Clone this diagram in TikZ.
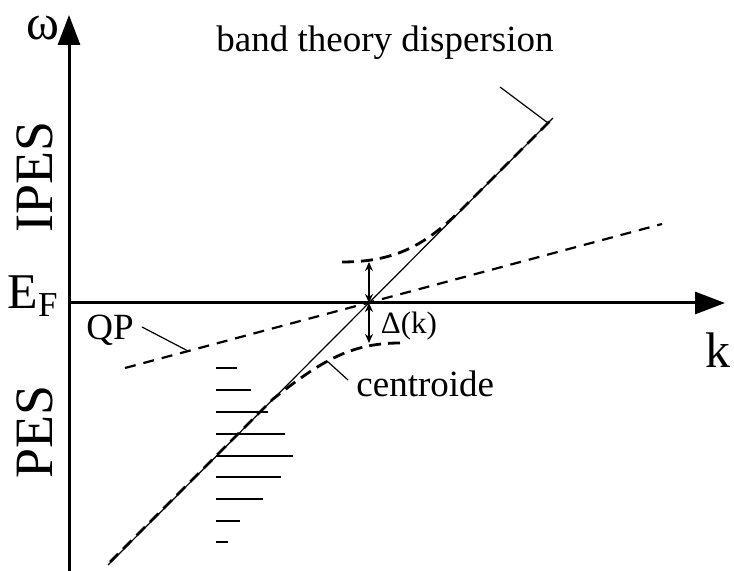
\documentclass[tikz,border=0pt]{standalone}
\usepackage{fontspec}
\setmainfont{Liberation Serif}
\usetikzlibrary{arrows.meta}

\tikzset{
  axis/.style={line width=1.5pt,-{Triangle[length=15pt,width=11pt]}},
  biglabel/.style={font=\fontsize{25}{30}\selectfont,inner sep=0pt},
  smalllabel/.style={font=\fontsize{18.5}{22}\selectfont,inner sep=0pt},
  branch/.style={line width=1.4pt,dash pattern=on 6pt off 3.5pt},
  qpline/.style={line width=1.1pt,dash pattern=on 5.5pt off 4pt},
  leader/.style={line width=0.6pt},
  gap/.style={line width=1pt,{Stealth[length=4.5pt,width=4pt]}-{Stealth[length=4.5pt,width=4pt]}},
  bar/.style={line width=1.1pt}
}

\begin{document}
\begin{tikzpicture}[x=0.5pt,y=-0.5pt]
\useasboundingbox (0,0) rectangle (734,571);
% axes
\coordinate (O) at (69,303);
\coordinate (ybot) at (69,571);
\coordinate (ytop) at (69,15);
\coordinate (xend) at (725,303);
\draw[axis] (ybot) -- (ytop);
\draw[axis] (O) -- (xend);
\node[biglabel] (omega) at (43,28) {ω};
\node[biglabel] (kk) at (718,350) {k};
\node[biglabel] (EF) at (33,296) {E\textsubscript{F}};
\node[biglabel,font=\fontsize{27}{30}\selectfont,rotate=90] (ipes) at (35,177) {IPES};
\node[biglabel,font=\fontsize{27}{30}\selectfont,rotate=90] (pes) at (35,432) {PES};
% band theory line and dressed branches
\coordinate (bandlo) at (108,565);
\coordinate (bandhi) at (553,118);
\draw[line width=0.6pt] (bandlo) -- (bandhi);
\draw[branch] (342,262) .. controls (395,262) and (425,245) .. (460,211) -- (bandhi);
\draw[branch] (400,343) .. controls (350,343) and (320,362) .. (273,399) -- (110,562);
% quasiparticle line
\coordinate (qplo) at (125,368);
\coordinate (qphi) at (662,224);
\draw[qpline] (qplo) -- (qphi);
% gap arrows
\coordinate (X) at (369,303);
\coordinate (gtop) at (369,262);
\coordinate (gbot) at (369,343);
\draw[gap] (gtop) -- (X);
\draw[gap] (X) -- (gbot);
\node[smalllabel,font=\fontsize{15.5}{18}\selectfont] (delta) at (409,326) {Δ(k)};
% PES spectrum
\foreach \y/\r in {368/237,390/251,412/268,434/285,456/293,477/281,499/263,521/240,542/228}
  {\draw[bar] (216,\y) -- (\r,\y);}
% labels with leaders
\node[smalllabel] (band) at (385,43) {band theory dispersion};
\coordinate (bandfoot) at (500,87);
\coordinate (bandtip) at (548,123);
\draw[leader] (bandfoot) -- (bandtip);
\node[smalllabel] (QP) at (110,330) {QP};
\coordinate (qpfoot) at (142,327);
\coordinate (qptip) at (188,351);
\draw[leader] (qpfoot) -- (qptip);
\node[smalllabel,anchor=west] (cent) at (356,384) {centroide};
\coordinate (centtip) at (327,361);
\coordinate (centfoot) at (348,380);
\draw[leader] (centtip) -- (centfoot);
\end{tikzpicture}
\end{document}
